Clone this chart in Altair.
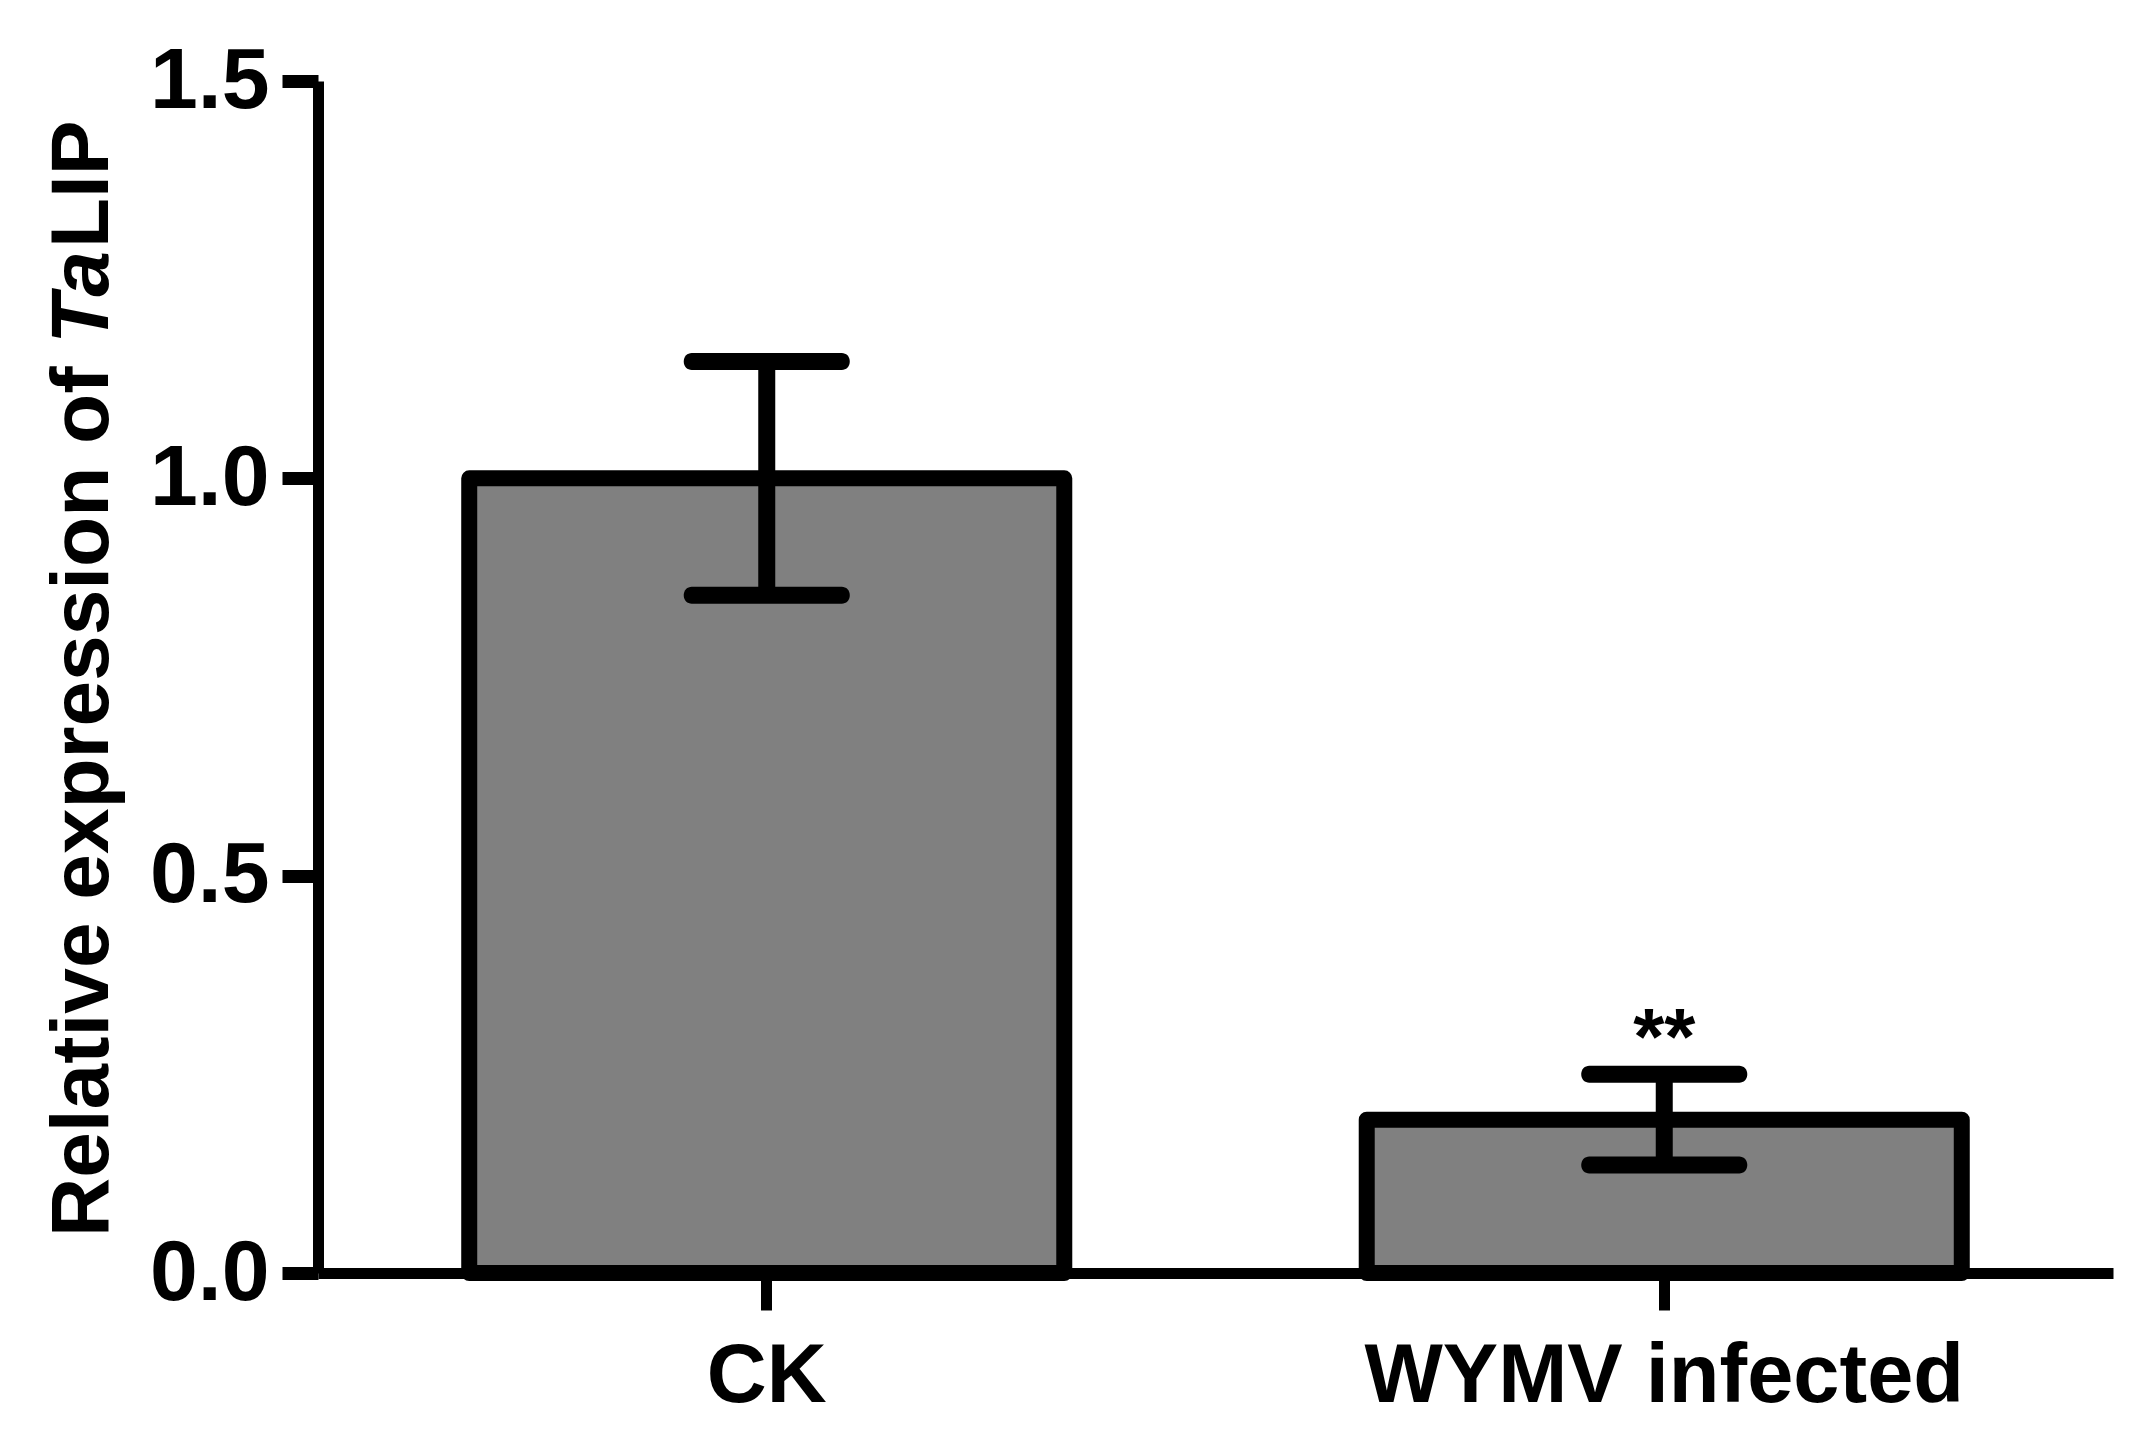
import altair as alt
import pandas as pd

categories = ["CK", "WYMV infected"]
means = [1.0, 0.193]
errors = [0.147, 0.057]
stars = ["", "**"]
y_ticks = [0.0, 0.5, 1.0, 1.5]
title_parts = ["Relative expression of", "Ta", "LIP"]

df = pd.DataFrame({"group": categories, "mean": means, "err": errors, "star": stars})
df["lower"] = df["mean"] - df["err"]
df["upper"] = df["mean"] + df["err"]

FONT = "Liberation Sans"
TFS = 82  # title font size

x = alt.X(
    "group:N",
    sort=categories,
    title=None,
    scale=alt.Scale(paddingInner=0.337, paddingOuter=0.1685),
    axis=alt.Axis(
        labelAngle=0,
        labelFontSize=83,
        labelFont=FONT,
        labelFontWeight="bold",
        labelColor="black",
        labelPadding=25,
        labelLimit=0,
        tickSize=37,
        tickWidth=11,
        tickColor="black",
        domainColor="black",
        domainWidth=11,
    ),
)

yscale = alt.Scale(domain=[0, 1.5], nice=False, zero=True)

y = alt.Y(
    "mean:Q",
    scale=yscale,
    title=None,
    axis=alt.Axis(
        values=y_ticks,
        format=".1f",
        grid=False,
        labelFont=FONT,
        labelFontSize=86,
        labelFontWeight="bold",
        labelColor="black",
        labelPadding=13,
        labelLimit=0,
        tickSize=36,
        tickWidth=13,
        tickColor="black",
        domainColor="black",
        domainWidth=11,
    ),
)

base = alt.Chart(df)

bars = base.mark_bar(color="#808080", stroke="black", strokeWidth=16, strokeJoin="round").encode(x=x, y=y)

stem = base.mark_rule(color="black", strokeWidth=17).encode(
    x=alt.X("group:N", sort=categories),
    y=alt.Y("lower:Q", scale=yscale),
    y2="upper:Q",
)

cap_hi = base.mark_tick(color="black", size=166, thickness=17, cornerRadius=8, opacity=1).encode(
    x=alt.X("group:N", sort=categories),
    y=alt.Y("upper:Q", scale=yscale),
)
cap_lo = base.mark_tick(color="black", size=166, thickness=17, cornerRadius=8, opacity=1).encode(
    x=alt.X("group:N", sort=categories),
    y=alt.Y("lower:Q", scale=yscale),
)

label = base.mark_text(
    font=FONT, fontSize=80, fontWeight="bold", color="black", baseline="alphabetic", align="center", dy=-10
).encode(
    x=alt.X("group:N", sort=categories),
    y=alt.Y("upper:Q", scale=yscale),
    text="star:N",
)

# y-axis title built from three pieces so that "Ta" can be italic
one = alt.Chart(pd.DataFrame({"k": [0]}))
t_x = -210
t_start = 1156
w1 = 10.615 * TFS + 0.278 * TFS
w2 = 1.167 * TFS
title1 = one.mark_text(
    text=title_parts[0], font=FONT, fontSize=TFS, fontWeight="bold", angle=270,
    align="left", baseline="alphabetic", color="black",
).encode(x=alt.value(t_x), y=alt.value(t_start))
title2 = one.mark_text(
    text=title_parts[1], font=FONT, fontSize=TFS, fontWeight="bold", fontStyle="italic", angle=270,
    align="left", baseline="alphabetic", color="black",
).encode(x=alt.value(t_x), y=alt.value(t_start - w1))
title3 = one.mark_text(
    text=title_parts[2], font=FONT, fontSize=TFS, fontWeight="bold", angle=270,
    align="left", baseline="alphabetic", color="black",
).encode(x=alt.value(t_x), y=alt.value(t_start - w1 - w2))

chart = (
    alt.layer(bars, stem, cap_hi, cap_lo, label, title1, title2, title3)
    .properties(
        width=1795,
        height=1192,
        autosize=alt.AutoSizeParams(type="none"),
        padding={"left": 310, "top": 73, "right": 18, "bottom": 173},
        background="white",
    )
    .configure_view(stroke=None)
)

chart.save("out.html", embed_options={"renderer": "svg", "actions": False})
